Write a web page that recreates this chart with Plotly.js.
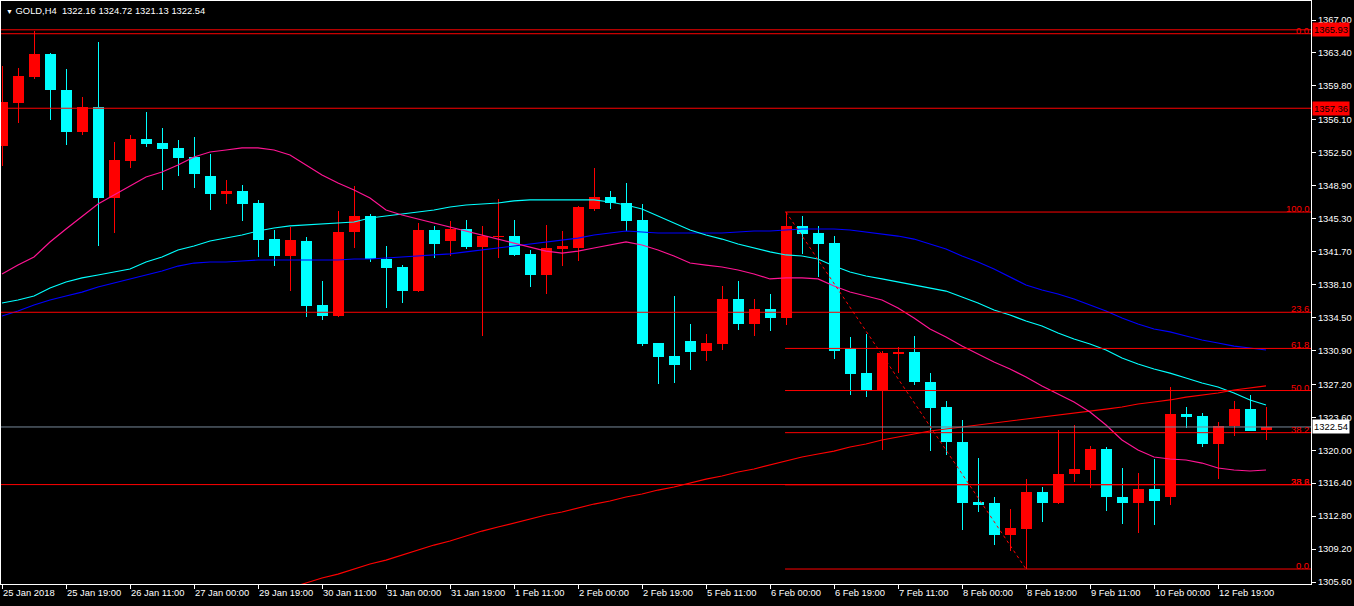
<!DOCTYPE html>
<html><head><meta charset="utf-8">
<script src="https://cdn.plot.ly/plotly-3.0.1.min.js"></script>
<style>html,body{margin:0;padding:0;background:#000;}#chart{width:1354px;height:606px;}</style>
</head><body><div id="chart"></div>
<script>
const symbol = "GOLD,H4";
const open = [1353.23,1357.96,1360.80,1363.32,1359.35,1354.80,1357.50,1347.59,1351.59,1353.99,
1353.56,1353.02,1352.03,1349.96,1347.99,1348.32,1347.01,1343.07,1341.22,1342.86,
1335.86,1334.66,1343.84,1345.60,1340.89,1340.01,1337.39,1344.06,1342.86,1344.17,
1342.20,1343.29,1343.40,1341.44,1339.14,1341.98,1342.09,1346.35,1347.66,1347.01,
1345.15,1331.71,1330.29,1331.93,1330.84,1331.60,1336.52,1333.79,1335.43,1334.44,
1344.50,1343.73,1342.64,1331.13,1328.40,1326.43,1330.48,1330.70,1327.45,1324.72,
1320.89,1314.34,1314.23,1310.73,1311.39,1315.43,1314.23,1317.40,1317.84,1320.13,
1314.89,1314.23,1315.76,1314.89,1323.95,1323.74,1320.68,1322.65,1324.50,1322.16];
const high = [1361.97,1361.72,1365.83,1363.43,1361.65,1358.59,1364.60,1353.67,1354.44,1356.95,
1355.20,1353.89,1354.22,1352.36,1349.52,1348.97,1347.33,1344.06,1344.39,1343.29,
1338.49,1346.13,1348.86,1345.81,1342.31,1340.23,1344.82,1344.50,1345.04,1345.15,
1344.50,1347.45,1345.15,1341.87,1344.61,1343.95,1346.68,1350.83,1348.32,1349.19,
1346.90,1331.71,1336.85,1333.79,1332.70,1337.94,1338.49,1336.52,1337.07,1346.02,
1345.55,1344.50,1343.40,1332.33,1332.70,1330.81,1331.24,1332.44,1328.43,1325.38,
1323.29,1319.15,1314.89,1313.58,1316.85,1315.98,1322.21,1322.76,1320.46,1320.35,
1318.06,1317.51,1319.04,1326.90,1324.72,1324.06,1323.08,1325.38,1326.03,1324.72];
const low = [1351.05,1355.75,1360.55,1356.07,1353.34,1354.44,1342.31,1343.76,1350.86,1353.16,
1348.43,1349.96,1348.65,1346.24,1346.90,1345.04,1341.11,1340.12,1337.39,1334.55,
1334.22,1334.55,1342.09,1340.56,1335.54,1336.08,1337.28,1341.00,1341.22,1341.98,
1332.48,1341.00,1341.22,1337.83,1337.07,1340.12,1340.67,1346.13,1346.35,1343.95,
1331.38,1327.24,1327.34,1328.76,1329.75,1330.95,1333.13,1332.48,1333.02,1333.68,
1341.44,1338.92,1329.96,1325.98,1325.78,1320.02,1328.40,1327.13,1319.91,1319.48,
1311.27,1313.25,1309.64,1308.99,1307.02,1312.16,1314.12,1316.52,1315.87,1313.36,
1311.94,1310.95,1311.83,1314.01,1322.42,1320.35,1316.85,1321.55,1322.09,1321.13];
const close = [1358.04,1360.88,1363.32,1359.35,1354.80,1357.50,1347.59,1351.70,1353.99,1353.45,
1352.91,1351.92,1350.18,1347.99,1348.32,1346.90,1342.97,1341.22,1342.97,1335.75,
1334.66,1343.84,1345.60,1340.89,1339.90,1337.39,1344.06,1342.53,1344.17,1342.20,
1343.40,1343.40,1341.33,1339.14,1342.09,1342.31,1346.57,1347.66,1347.01,1345.04,
1331.60,1330.18,1329.31,1330.73,1331.71,1336.52,1333.79,1335.43,1334.44,1344.50,
1343.62,1342.53,1330.84,1328.29,1326.43,1330.59,1330.70,1327.45,1324.61,1320.89,
1314.23,1314.01,1310.73,1311.50,1315.43,1314.23,1317.40,1317.95,1320.13,1314.89,
1314.23,1315.76,1314.45,1323.95,1323.63,1320.68,1322.65,1324.50,1322.09,1322.54];

const maPink = [1339.25,1340.23,1341.11,1342.75,1344.17,1345.52,1346.90,1347.88,1348.87,1349.85,
1350.39,1351.16,1352.03,1352.58,1352.80,1353.02,1353.02,1352.80,1352.25,1351.16,
1350.07,1349.19,1348.43,1347.55,1346.24,1345.70,1345.26,1344.82,1344.39,1343.95,
1343.51,1343.07,1342.64,1342.20,1341.76,1341.54,1341.76,1342.09,1342.42,1342.75,
1342.42,1341.87,1341.22,1340.45,1340.23,1340.02,1339.69,1339.25,1338.71,1338.82,
1338.82,1338.71,1337.94,1337.28,1336.85,1336.41,1335.54,1334.44,1333.24,1332.37,
1331.38,1330.51,1329.64,1328.87,1328.00,1327.02,1326.14,1325.27,1324.18,1322.76,
1321.12,1320.02,1319.26,1319.04,1318.93,1318.60,1318.06,1317.84,1317.73,1317.84];
const maCyan = [1336.08,1336.41,1336.85,1337.72,1338.38,1338.82,1339.14,1339.47,1339.80,1340.56,
1341.11,1341.87,1342.31,1342.86,1343.18,1343.51,1343.95,1344.28,1344.50,1344.61,
1344.71,1344.82,1344.93,1345.37,1345.59,1345.81,1346.03,1346.24,1346.57,1346.79,
1346.90,1347.01,1347.23,1347.34,1347.34,1347.34,1347.34,1347.34,1347.12,1346.79,
1346.35,1345.59,1344.82,1344.06,1343.51,1343.07,1342.53,1342.09,1341.66,1341.33,
1341.22,1340.89,1340.12,1339.47,1339.03,1338.71,1338.38,1338.05,1337.72,1337.39,
1336.74,1336.08,1335.32,1334.77,1334.12,1333.57,1332.81,1332.15,1331.60,1330.95,
1330.07,1329.42,1328.87,1328.43,1327.89,1327.34,1326.91,1326.25,1325.48,1324.94];
const maBlue = [1334.66,1335.21,1335.86,1336.41,1336.85,1337.28,1337.83,1338.27,1338.71,1339.14,
1339.58,1340.12,1340.45,1340.56,1340.56,1340.67,1340.78,1340.78,1340.78,1340.78,
1340.78,1340.78,1340.89,1340.89,1341.00,1341.11,1341.22,1341.33,1341.44,1341.66,
1341.87,1342.09,1342.31,1342.53,1342.75,1342.97,1343.18,1343.51,1343.73,1343.95,
1343.84,1343.73,1343.73,1343.73,1343.73,1343.73,1343.84,1343.95,1343.95,1344.06,
1344.17,1344.17,1344.17,1344.06,1343.84,1343.62,1343.40,1343.07,1342.53,1341.98,
1341.22,1340.56,1339.80,1338.92,1338.05,1337.50,1337.07,1336.52,1335.86,1335.21,
1334.44,1333.79,1333.24,1332.92,1332.48,1332.04,1331.71,1331.38,1331.17,1330.95];
const maRedStart = 17;
const maRed = [1304.51,1304.95,1305.49,1306.04,1306.47,1307.02,1307.57,1308.00,1308.55,1309.10,
1309.64,1310.08,1310.63,1311.17,1311.61,1312.05,1312.49,1312.92,1313.25,1313.69,
1314.12,1314.45,1314.89,1315.22,1315.65,1315.98,1316.42,1316.85,1317.18,1317.62,
1317.95,1318.38,1318.82,1319.26,1319.59,1319.91,1320.35,1320.68,1321.12,1321.44,
1321.77,1322.10,1322.32,1322.53,1322.76,1322.97,1323.19,1323.41,1323.63,1323.85,
1324.07,1324.28,1324.50,1324.72,1325.05,1325.27,1325.49,1325.81,1326.03,1326.25,
1326.58,1326.80,1327.02];

const xTickBars = [0,4,8,12,16,20,24,28,32,36,40,44,48,52,56,60,64,68,72,76];
const xTickLabels = ["25 Jan 2018","25 Jan 19:00","26 Jan 11:00","27 Jan 00:00","29 Jan 19:00",
"30 Jan 11:00","31 Jan 00:00","31 Jan 19:00","1 Feb 11:00","2 Feb 00:00","2 Feb 19:00",
"5 Feb 11:00","6 Feb 00:00","6 Feb 19:00","7 Feb 11:00","8 Feb 00:00","8 Feb 19:00",
"9 Feb 11:00","10 Feb 00:00","12 Feb 19:00"];
const yTickValues = [1367.00,1363.40,1359.80,1356.10,1352.50,1348.90,1345.30,1341.70,1338.10,
1334.50,1330.90,1327.20,1323.60,1320.00,1316.40,1312.80,1309.20,1305.60];

const hLinePrices = [1365.93, 1357.36];
const redTagPrices = [1365.93, 1357.36];
const bidPrice = 1322.54;
const fibA_startBar = 49, fibA_endBar = 64, fibA_high = 1346.02, fibA_low = 1307.02;
const fibB_zero = 1365.50, fibB_hundred = 1236.56;
const fibRatios = [0, 23.6, 38.2, 50, 61.8, 100];

const X_RANGE = [-0.0625, 81.8125];
const Y_RANGE = [1305.385, 1369.076];
const RED = '#ff0000', CYAN = '#00ffff';
const FONT = 'Liberation Sans, Arial, sans-serif';
const FS = 9.4;

const idx = open.map((_, i) => i);
const isUp = idx.map(i => close[i] >= open[i]);
const colors = isUp.map(u => u ? RED : CYAN);

const wicks = {
  type: 'bar', x: idx, base: low, y: idx.map(i => high[i] - low[i]),
  width: 0.0625, marker: {color: colors, line: {width: 0}}, hoverinfo: 'skip'
};
const bodies = {
  type: 'bar', x: idx, base: idx.map(i => Math.min(open[i], close[i])),
  y: idx.map(i => Math.max(Math.abs(close[i] - open[i]), 0.11)),
  width: 0.6875, marker: {color: colors, line: {width: 0}}, hoverinfo: 'skip'
};
function ma(vals, color, start) {
  return {type: 'scatter', mode: 'lines', x: vals.map((_, k) => k + (start || 0)), y: vals,
    line: {color: color, width: 1.2}, hoverinfo: 'skip'};
}
const traces = [wicks, bodies,
  ma(maRed, RED, maRedStart), ma(maBlue, '#0000ff'), ma(maCyan, CYAN), ma(maPink, '#ff1493')];

const shapes = [];
const annotations = [];
function inRange(p) { return p >= Y_RANGE[0] && p <= Y_RANGE[1]; }

hLinePrices.forEach(p => shapes.push({type: 'line', xref: 'x', yref: 'y', x0: X_RANGE[0], x1: X_RANGE[1], y0: p, y1: p, line: {color: RED, width: 1}}));
shapes.push({type: 'line', xref: 'x', yref: 'y', x0: X_RANGE[0], x1: X_RANGE[1], y0: bidPrice, y1: bidPrice, line: {color: '#778899', width: 1}});

fibRatios.forEach(r => {
  const pA = fibA_low + (fibA_high - fibA_low) * r / 100;
  if (inRange(pA)) {
    shapes.push({type: 'line', xref: 'x', yref: 'y', x0: fibA_startBar - 0.06, x1: X_RANGE[1], y0: pA, y1: pA, line: {color: RED, width: 1}});
    annotations.push({xref: 'paper', yref: 'y', x: 1, y: pA, xanchor: 'right', yanchor: 'bottom', xshift: -1, yshift: -3,
      text: r.toFixed(1), showarrow: false, font: {family: FONT, size: FS, color: RED}, borderpad: 0});
  }
  const pB = fibB_zero + (fibB_hundred - fibB_zero) * r / 100;
  if (inRange(pB)) {
    shapes.push({type: 'line', xref: 'x', yref: 'y', x0: X_RANGE[0], x1: X_RANGE[1], y0: pB, y1: pB, line: {color: RED, width: 1}});
    annotations.push({xref: 'paper', yref: 'y', x: 1, y: pB, xanchor: 'right', yanchor: 'bottom', xshift: -1, yshift: -3,
      text: r.toFixed(1), showarrow: false, font: {family: FONT, size: FS, color: RED}, borderpad: 0});
  }
});
shapes.push({type: 'line', xref: 'x', yref: 'y', x0: fibA_startBar, y0: fibA_high, x1: fibA_endBar, y1: fibA_low,
  line: {color: RED, width: 1, dash: 'dot'}});

redTagPrices.forEach(p => annotations.push({xref: 'paper', yref: 'y', x: 1, y: p, xanchor: 'left', yanchor: 'middle', xshift: 1,
  text: p.toFixed(2), showarrow: false, bgcolor: RED, font: {family: FONT, size: FS, color: '#000'}, borderpad: 1}));
annotations.push({xref: 'paper', yref: 'y', x: 1, y: bidPrice, xanchor: 'left', yanchor: 'middle', xshift: 1,
  text: bidPrice.toFixed(2), showarrow: false, bgcolor: '#ffffff', font: {family: FONT, size: FS, color: '#000'}, borderpad: 1});

const last = open.length - 1;
annotations.push({xref: 'paper', yref: 'paper', x: 0, y: 1, xanchor: 'left', yanchor: 'top', xshift: 3, yshift: -2,
  text: '<span style="font-size:7px">▼</span> ' + symbol + '  ' + [open[last], high[last], low[last], close[last]].map(v => v.toFixed(2)).join(' '),
  showarrow: false, font: {family: FONT, size: FS, color: '#ffffff'}});

const layout = {
  width: 1354, height: 606,
  margin: {l: 1, r: 43, t: 1, b: 22, pad: 0},
  paper_bgcolor: '#000', plot_bgcolor: '#000',
  showlegend: false, barmode: 'overlay', bargap: 0,
  xaxis: {range: X_RANGE, tickmode: 'array', tickvals: xTickBars, ticktext: xTickLabels,
    tickangle: 0, ticks: 'outside', ticklen: 4, tickcolor: '#fff', ticklabelposition: 'outside right',
    showline: true, linecolor: '#fff', linewidth: 1, mirror: true, showgrid: false, zeroline: false,
    tickfont: {family: FONT, size: FS, color: '#fff'}, fixedrange: true},
  yaxis: {range: Y_RANGE, side: 'right', tickmode: 'array', tickvals: yTickValues,
    ticktext: yTickValues.map(v => v.toFixed(2)), ticks: 'outside', ticklen: 4, tickcolor: '#fff',
    showline: true, linecolor: '#fff', linewidth: 1, mirror: true, showgrid: false, zeroline: false,
    tickfont: {family: FONT, size: FS, color: '#fff'}, fixedrange: true},
  shapes: shapes, annotations: annotations
};
Plotly.newPlot('chart', traces, layout, {staticPlot: true, displayModeBar: false});
</script></body></html>
